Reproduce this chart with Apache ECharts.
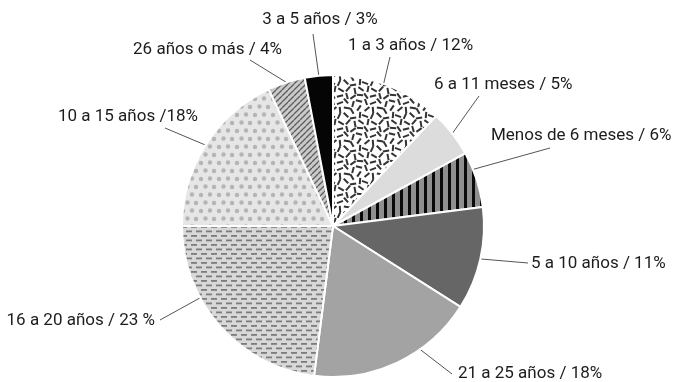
<!DOCTYPE html>
<html>
<head>
<meta charset="utf-8">
<script src="https://cdn.jsdelivr.net/npm/echarts@6/dist/echarts.min.js"></script>
<style>
  html, body { margin: 0; padding: 0; background: #ffffff; }
  #chart { width: 674px; height: 382px; }
</style>
</head>
<body>
<div id="chart"></div>
<script>
// Antigüedad: slices run clockwise from 12 o'clock
const categories = [
  '1 a 3 años', '6 a 11 meses', 'Menos de 6 meses', '5 a 10 años',
  '21 a 25 años', '16 a 20 años', '10 a 15 años', '26 años o más', '3 a 5 años'
];
const values = [12, 5, 6, 11, 18, 23, 18, 4, 3];
const labelTexts = [
  '1 a 3 años / 12%', '6 a 11 meses / 5%', 'Menos de 6 meses / 6%', '5 a 10 años / 11%',
  '21 a 25 años / 18%', '16 a 20 años / 23 %', '10 a 15 años /18%', '26 años o más / 4%', '3 a 5 años / 3%'
];

// Pie placement
const PIE_CENTER = [333, 226];
const PIE_RADIUS = 151;

// Leader line: where it ends, how far (degrees) its foot slides along the rim,
// and where the text sits
const labelSpots = [
  { end: [390, 57],  slide: -2,  tx: 348, ty: 46,  align: 'left' },
  { end: [479, 96],  slide: 0,   tx: 434, ty: 85,  align: 'left' },
  { end: [550, 148], slide: -4,  tx: 491, ty: 136, align: 'left' },
  { end: [528, 263], slide: 0,   tx: 531, ty: 264, align: 'left' },
  { end: [452, 374], slide: -10, tx: 458, ty: 374, align: 'left' },
  { end: [160, 320], slide: 13,  tx: 155, ty: 321, align: 'right' },
  { end: [165, 128], slide: 0,   tx: 198, ty: 117, align: 'right' },
  { end: [250, 60],  slide: 0,   tx: 282, ty: 50,  align: 'right' },
  { end: [313, 34],  slide: 0,   tx: 320, ty: 20,  align: 'center' }
];

// ---- fill textures ----
function tile(w, h, draw) {
  const c = document.createElement('canvas');
  c.width = w; c.height = h;
  const g = c.getContext('2d');
  draw(g, w, h);
  return { image: c, repeat: 'repeat' };
}

// scattered short strokes at mixed angles
const confetti = tile(33, 33, (g, w, h) => {
  g.fillStyle = '#ffffff'; g.fillRect(0, 0, w, h);
  g.strokeStyle = '#333333'; g.lineWidth = 2; g.lineCap = 'butt';
  const strokes = [
    [3, 3, 70], [10, 4, -20], [16, 2, 50], [23, 5, -75], [29, 2, 15],
    [4, 10, -40], [10, 11, 85], [17, 9, 10], [22, 12, 60], [29, 9, -55],
    [2, 17, 20], [9, 17, -65], [16, 16, 45], [23, 19, -10], [30, 16, 95],
    [5, 23, -80], [11, 24, 30], [18, 23, -50], [25, 25, 80], [31, 23, 35],
    [3, 30, 55], [10, 30, -15], [17, 30, 75], [23, 31, -35], [30, 29, 5]
  ];
  for (const [x, y, a] of strokes) {
    const r = a * Math.PI / 180, dx = Math.cos(r) * 3.2, dy = Math.sin(r) * 3.2;
    for (const ox of [-w, 0, w]) for (const oy of [-h, 0, h]) {
      g.beginPath();
      g.moveTo(x + ox - dx, y + oy - dy);
      g.lineTo(x + ox + dx, y + oy + dy);
      g.stroke();
    }
  }
});

const vstripes = tile(8, 8, (g, w, h) => {
  g.fillStyle = '#8f8f8f'; g.fillRect(0, 0, w, h);
  g.fillStyle = '#0a0a0a'; g.fillRect(0, 0, 3, h);
});

const hdashes = tile(10, 9, (g, w, h) => {
  g.fillStyle = '#d8d8d8'; g.fillRect(0, 0, w, h);
  g.fillStyle = '#7c7c7c';
  g.fillRect(1, 1, 6, 1.8);
  g.fillRect(6, 5.5, 6, 1.8);
  g.fillRect(-4, 5.5, 6, 1.8);
});

const dots = tile(18, 16, (g, w, h) => {
  g.fillStyle = '#e6e6e6'; g.fillRect(0, 0, w, h);
  g.fillStyle = '#b5b5b5';
  const pts = [[3, 3], [12, 2.5], [7.5, 10.5], [16, 11]];
  for (const [x, y] of pts) for (const ox of [-w, 0, w]) for (const oy of [-h, 0, h]) {
    g.beginPath(); g.arc(x + ox, y + oy, 2.2, 0, Math.PI * 2); g.fill();
  }
});

const diagonal = tile(6, 6, (g, w, h) => {
  g.fillStyle = '#cacaca'; g.fillRect(0, 0, w, h);
  g.strokeStyle = '#5c5c5c'; g.lineWidth = 1.3;
  for (const o of [-w, 0, w]) {
    g.beginPath(); g.moveTo(o, h); g.lineTo(o + w, 0); g.stroke();
  }
});

const fills = [
  confetti, '#dcdcdc', vstripes, '#666666',
  '#a3a3a3', hdashes, dots, diagonal, '#050505'
];

// slide a rim point along the circle by a number of degrees
function slideOnRim(pt, deg) {
  if (!deg) return pt;
  const dx = pt[0] - PIE_CENTER[0], dy = pt[1] - PIE_CENTER[1];
  const r = Math.sqrt(dx * dx + dy * dy);
  const a = Math.atan2(dy, dx) + deg * Math.PI / 180;
  return [PIE_CENTER[0] + r * Math.cos(a), PIE_CENTER[1] + r * Math.sin(a)];
}

const chart = echarts.init(document.getElementById('chart'), null, { renderer: 'canvas' });

chart.setOption({
  animation: false,
  backgroundColor: '#ffffff',
  series: [{
    type: 'pie',
    center: PIE_CENTER,
    radius: PIE_RADIUS,
    startAngle: 90,
    clockwise: true,
    avoidLabelOverlap: false,
    itemStyle: { borderColor: '#ffffff', borderWidth: 2 },
    label: {
      show: true,
      position: 'outside',
      formatter: p => labelTexts[p.dataIndex],
      fontFamily: 'Roboto, "Liberation Sans", sans-serif',
      fontSize: 17,
      color: '#1e1b1c'
    },
    labelLine: {
      show: true,
      length: 20,
      length2: 0,
      smooth: false,
      lineStyle: { color: '#555555', width: 1 }
    },
    labelLayout: p => {
      const s = labelSpots[p.dataIndex];
      const start = slideOnRim(p.labelLinePoints[0], s.slide);
      return {
        x: s.tx,
        y: s.ty,
        align: s.align,
        verticalAlign: 'middle',
        labelLinePoints: [start, s.end, s.end]
      };
    },
    emphasis: { disabled: true },
    data: categories.map((name, i) => ({
      name,
      value: values[i],
      itemStyle: { color: fills[i] }
    }))
  }]
});
</script>
</body>
</html>
